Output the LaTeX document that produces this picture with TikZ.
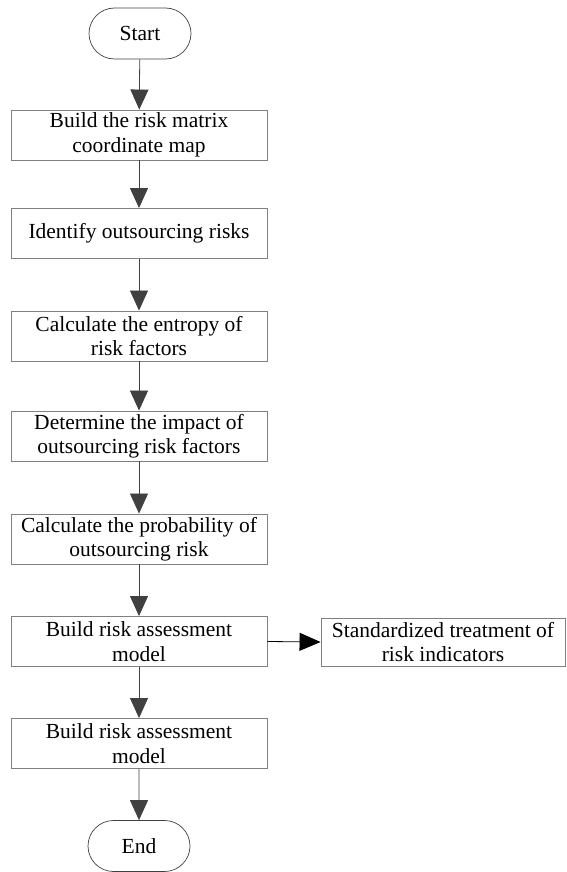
\documentclass[tikz,border=0pt]{standalone}
\usepackage{fontspec}
\setmainfont{Liberation Serif}
\usetikzlibrary{arrows.meta,shapes.misc}
\definecolor{boxline}{HTML}{808080}
\definecolor{flowline}{HTML}{404040}
\begin{document}
\begin{tikzpicture}[x=1pt,y=-1pt,
  every node/.style={font=\fontsize{21.5}{24.5}\selectfont, text=black},
  stepbox/.style={draw=boxline, line width=0.9pt, rectangle, align=center,
    minimum width=256pt, minimum height=50pt, inner sep=0pt},
  sidebox/.style={stepbox, minimum width=244pt, minimum height=48pt},
  terminal/.style={draw=flowline, line width=0.7pt, rounded rectangle,
    minimum width=102pt, minimum height=51pt, inner sep=0pt},
  flow/.style={draw=flowline, line width=0.8pt,
    -{Triangle[length=20pt,width=18pt,fill=flowline]}},
  sideflow/.style={draw=black, line width=0.8pt,
    -{Triangle[length=21pt,width=18pt,fill=black]}}]
  \useasboundingbox (0,0) rectangle (566,872);

  \node[terminal] (start) at (140,33.5) {Start};
  \node[stepbox] (s1) at (139,135) {Build the risk matrix\\coordinate map};
  \node[stepbox] (s2) at (139,233.5) {Identify outsourcing risks};
  \node[stepbox] (s3) at (139,336) {Calculate the entropy of\\risk factors};
  \node[stepbox] (s4) at (139,436) {Determine the impact of\\outsourcing risk factors};
  \node[stepbox] (s5) at (139,539) {Calculate the probability of\\outsourcing risk};
  \node[stepbox] (s6) at (139,641.5) {Build risk assessment\\model};
  \node[sidebox] (side) at (443,642) {Standardized treatment of\\risk indicators};
  \node[stepbox] (s7) at (139,743.5) {Build risk assessment\\model};
  \node[terminal] (end) at (139,846) {End};

  \draw[flow] (start) -- (s1);
  \draw[flow] (s1) -- (s2);
  \draw[flow] (s2) -- (s3);
  \draw[flow] (s3) -- (s4);
  \draw[flow] (s4) -- (s5);
  \draw[flow] (s5) -- (s6);
  \draw[flow] (s6) -- (s7);
  \draw[flow] (s7) -- (end);
  \draw[sideflow] (s6.east) -- (side.west);
\end{tikzpicture}
\end{document}
